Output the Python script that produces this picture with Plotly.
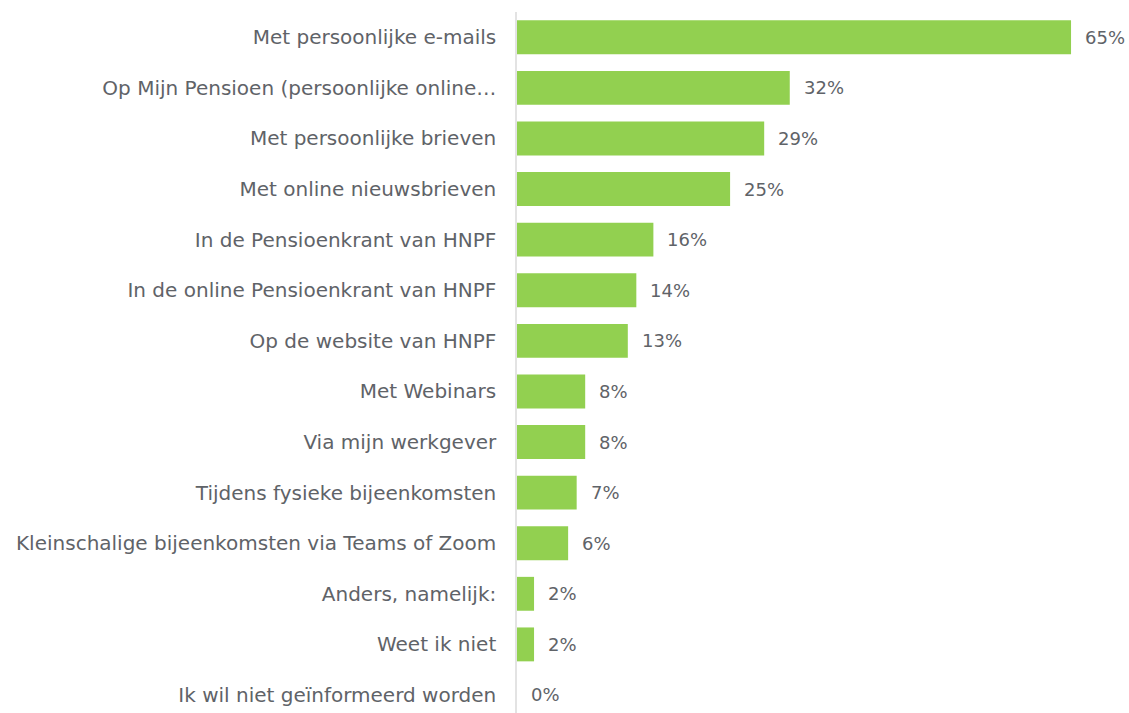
import plotly.graph_objects as go

categories = [
    "Met persoonlijke e-mails",
    "Op Mijn Pensioen (persoonlijke online…",
    "Met persoonlijke brieven",
    "Met online nieuwsbrieven",
    "In de Pensioenkrant van HNPF",
    "In de online Pensioenkrant van HNPF",
    "Op de website van HNPF",
    "Met Webinars",
    "Via mijn werkgever",
    "Tijdens fysieke bijeenkomsten",
    "Kleinschalige bijeenkomsten via Teams of Zoom",
    "Anders, namelijk:",
    "Weet ik niet",
    "Ik wil niet geïnformeerd worden",
]
values = [65, 32, 29, 25, 16, 14, 13, 8, 8, 7, 6, 2, 2, 0]
labels = [f"{v}%" for v in values]

idx = list(range(len(categories)))
TEXT = "#5f6368"
FONT = "DejaVu Sans"

fig = go.Figure(go.Bar(
    x=values, y=idx, orientation="h",
    marker=dict(color="#92d050", line=dict(width=0)),
    width=0.67,
))

for i, v, t in zip(idx, values, labels):
    fig.add_annotation(x=v, y=i, text=t, xanchor="left", yanchor="middle",
                       xshift=12, showarrow=False,
                       font=dict(family=FONT, size=18, color=TEXT))

fig.update_layout(
    width=1129, height=713,
    margin=dict(l=517, r=0, t=12, b=0),
    paper_bgcolor="white", plot_bgcolor="white",
    showlegend=False,
    xaxis=dict(range=[0, 71.8], visible=False, showgrid=False, zeroline=False),
    yaxis=dict(
        range=[13.356, -0.5],
        tickmode="array", tickvals=idx, ticktext=categories,
        showgrid=False, zeroline=False,
        showline=True, linecolor="#e3e3e3", linewidth=1.5,
        ticks="", ticklabelstandoff=15,
        tickfont=dict(family=FONT, size=20, color=TEXT),
    ),
)

fig.write_html("out.html", config={"displayModeBar": False})

with open("out.html", "r", encoding="utf-8") as f:
    html = f.read()
html = html.replace("<body>", '<body style="margin:0;overflow:hidden">', 1)
with open("out.html", "w", encoding="utf-8") as f:
    f.write(html)
